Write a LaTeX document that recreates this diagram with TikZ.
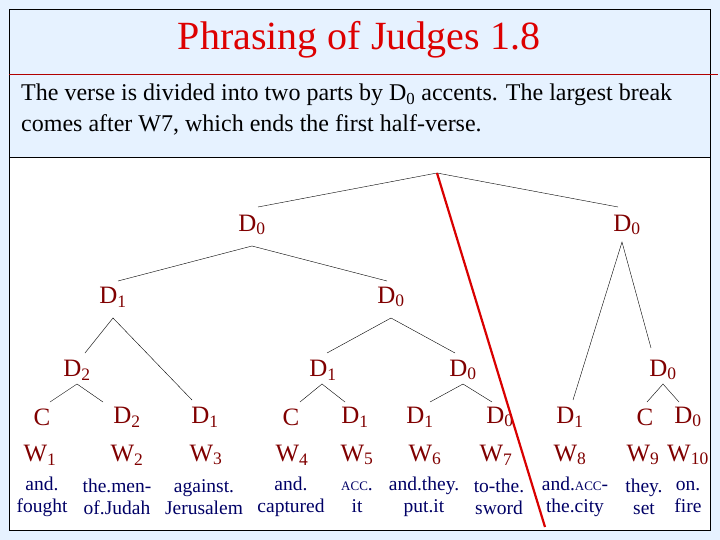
\documentclass[tikz,border=0pt]{standalone}
\usepackage{fontspec}
\setmainfont{Liberation Serif}
\definecolor{bgblue}{HTML}{E6F2FF}
\definecolor{lab}{HTML}{800000}
\definecolor{eng}{HTML}{000066}
\definecolor{ttl}{HTML}{DD0000}
\newcommand{\sub}[1]{\textsubscript{#1}}
\begin{document}
\begin{tikzpicture}[x=1pt,y=-1pt,
  lbl/.style={text=lab,font=\fontsize{25}{27}\selectfont,inner sep=0pt},
  wlbl/.style={text=lab,font=\fontsize{25}{27}\selectfont,inner sep=0pt},
  en/.style={text=eng,font=\fontsize{19.5}{22}\selectfont,align=center,inner sep=0pt},
  br/.style={draw=black,thin}]
\useasboundingbox (0,0) rectangle (720,540);
\fill[bgblue] (0,0) rectangle (720,540);
\fill[white] (9,157) rectangle (710,530);
\draw[black] (9,9) rectangle (710,530);
\draw[black] (9,157) -- (710,157);
\draw[ttl!80!black] (9,74) -- (718,74);
\node[text=ttl,font=\fontsize{40}{44}\selectfont] (title) at (359,40) {Phrasing of Judges 1.8};
\node[anchor=north west,align=left,font=\fontsize{24}{31}\selectfont,inner sep=0pt] (intro) at (21,84)
 {The verse is divided into two parts by D\sub{0} accents. The largest break\\comes after W7, which ends the first half-verse.};
% tree apexes
\coordinate (r) at (437,173);
\coordinate (a1) at (252,246);
\coordinate (a2) at (622,242);
\coordinate (b1) at (113,318);
\coordinate (b2) at (391,318);
\coordinate (c1) at (77,384);
\coordinate (c2) at (322,384);
\coordinate (c3) at (463,384);
\coordinate (c4) at (663,384);
% labels
\node[lbl] (d0a) at (252,225) {D\sub{0}};
\node[lbl] (d0b) at (627,225) {D\sub{0}};
\node[lbl] (d1a) at (113,297) {D\sub{1}};
\node[lbl] (d0c) at (391,297) {D\sub{0}};
\node[lbl] (d2a) at (77,370) {D\sub{2}};
\node[lbl] (d1b) at (323,370) {D\sub{1}};
\node[lbl] (d0d) at (463,370) {D\sub{0}};
\node[lbl] (d0e) at (663,370) {D\sub{0}};
\coordinate (e1) at (258,207); \coordinate (e2) at (618,207);
\draw[br] (e1) -- (r) -- (e2);
\draw[br] (118,281) -- (a1) -- (387,281);
\draw[br] (85,353) -- (b1) -- (192,400);
\draw[br] (327,353) -- (b2) -- (455,353);
\draw[br] (573,400) -- (a2) -- (651,348);
\draw[br] (50,402) -- (c1) -- (103,402);
\draw[br] (300,402) -- (c2) -- (345,402);
\draw[br] (430,402) -- (c3) -- (492,402);
\draw[br] (647,402) -- (c4) -- (679,402);
% level 4
\foreach \x/\t/\n in {42/C/l1,127/D\sub{2}/l2,205/D\sub{1}/l3,291/C/l4,355/D\sub{1}/l5,420/D\sub{1}/l6,500/D\sub{0}/l7,570/D\sub{1}/l8,645/C/l9,688/D\sub{0}/l10}
  \node[lbl] (\n) at (\x,417) {\t};
\foreach \x/\t/\n in {40/1,127/2,206/3,292/4,357/5,425/6,496/7,570/8,643/9,688/10}
  \node[wlbl] (w\t) at (\x,455) {W\sub{\t}};
\node[en] (g1) at (42,497) {and.\\fought};
\node[en] (g2) at (117,497) {the.men-\\of.Judah};
\node[en] (g3) at (204,497) {against.\\Jerusalem};
\node[en] (g4) at (291,497) {and.\\captured};
\node[en] (g5) at (357,497) {{\fontsize{13}{22}\selectfont ACC}.\\it};
\node[en] (g6) at (424,497) {and.they.\\put.it};
\node[en] (g7) at (499,497) {to-the.\\sword};
\node[en] (g8) at (575,497) {and.{\fontsize{13}{22}\selectfont ACC}-\\the.city};
\node[en] (g9) at (644,497) {they.\\set};
\node[en] (g10) at (688,497) {on.\\fire};
\coordinate (redend) at (545,527);
\draw[red!85!black,line width=2.2pt] (r) -- (redend);
\end{tikzpicture}
\end{document}
